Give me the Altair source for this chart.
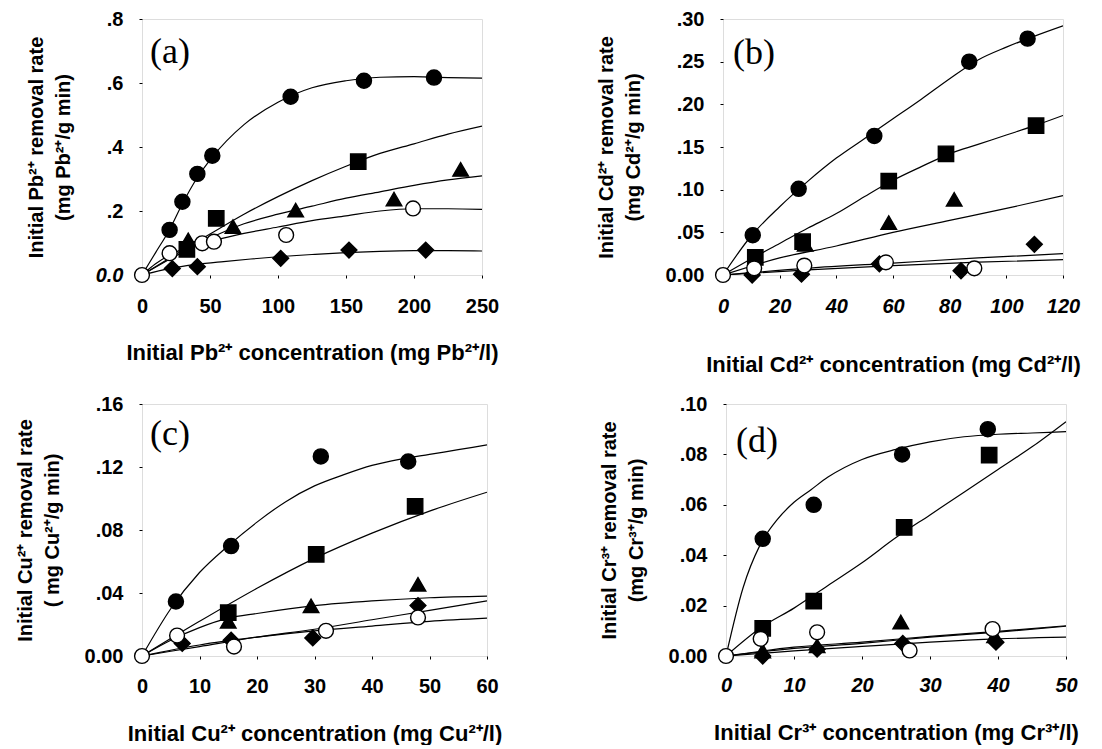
import altair as alt
import pandas as pd

# ---------------- data ----------------
SERIES = ["diamond", "triangle", "square", "circle", "open"]
SHAPES = ["diamond", "triangle-up", "square", "circle", "circle"]
FILLS = ["black", "black", "black", "black", "white"]
SIZES = [250, 220, 230, 270, 270]

# Panel (a) Pb
a_pts = {
    "circle":   ([20.3, 29.7, 40.7, 51.7, 109.3, 163.2, 214.7], [0.141, 0.229, 0.316, 0.373, 0.557, 0.607, 0.617]),
    "square":   ([33, 54.6, 159], [0.08, 0.177, 0.354]),
    "triangle": ([34, 66.9, 113, 185.3, 234.3], [0.11, 0.151, 0.203, 0.237, 0.33]),
    "open":     ([0, 20.3, 44.3, 52.9, 106, 199.3], [0, 0.068, 0.099, 0.104, 0.125, 0.208]),
    "diamond":  ([22.3, 40.7, 102, 152.2, 208.6], [0.02, 0.026, 0.052, 0.078, 0.078]),
}
a_fit = {
    "circle":   ([0, 10, 20, 30, 40, 52, 75, 100, 125, 150, 175, 200, 225, 250],
                 [0, 0.07, 0.14, 0.225, 0.3, 0.37, 0.47, 0.54, 0.585, 0.607, 0.618, 0.62, 0.617, 0.615]),
    "square":   ([0, 25, 50, 75, 100, 125, 150, 175, 200, 225, 250],
                 [0, 0.065, 0.128, 0.19, 0.245, 0.295, 0.34, 0.38, 0.41, 0.44, 0.465]),
    "triangle": ([0, 25, 50, 75, 100, 125, 150, 175, 200, 225, 250],
                 [0, 0.06, 0.115, 0.16, 0.19, 0.215, 0.24, 0.26, 0.28, 0.297, 0.31]),
    "open":     ([0, 10, 20, 35, 50, 75, 100, 125, 150, 175, 200, 225, 250],
                 [0, 0.035, 0.062, 0.088, 0.105, 0.13, 0.15, 0.17, 0.185, 0.2, 0.207, 0.207, 0.205]),
    "diamond":  ([0, 20, 40, 60, 80, 100, 125, 150, 175, 200, 225, 250],
                 [0, 0.02, 0.033, 0.042, 0.05, 0.057, 0.064, 0.07, 0.074, 0.076, 0.076, 0.075]),
}

# Panel (b) Cd
b_pts = {
    "circle":   ([10.5, 26.7, 53.4, 86.9, 107.5], [0.0467, 0.101, 0.163, 0.250, 0.277]),
    "square":   ([11.4, 28.1, 58.5, 78.7, 110.5], [0.0206, 0.039, 0.110, 0.142, 0.175]),
    "triangle": ([29, 58.5, 81.6], [0.036, 0.0615, 0.0887]),
    "open":     ([0, 11, 28.7, 57.5, 88.7], [0, 0.0078, 0.011, 0.0148, 0.0078]),
    "diamond":  ([10.3, 27.7, 55.2, 84, 109.9], [0.0, 0.001, 0.013, 0.005, 0.036]),
}
b_fit = {
    "circle":   ([0, 10, 20, 30, 40, 50, 60, 70, 80, 90, 100, 110, 120],
                 [0, 0.046, 0.08, 0.11, 0.137, 0.16, 0.183, 0.206, 0.23, 0.252, 0.267, 0.28, 0.292]),
    "square":   ([0, 10, 20, 30, 40, 50, 60, 70, 80, 90, 100, 110, 120],
                 [0, 0.019, 0.037, 0.055, 0.072, 0.092, 0.111, 0.127, 0.142, 0.153, 0.164, 0.175, 0.187]),
    "triangle": ([0, 20, 40, 60, 80, 100, 120], [0, 0.02, 0.034, 0.05, 0.064, 0.078, 0.093]),
    "open":     ([0, 30, 60, 90, 120], [0, 0.006, 0.011, 0.015, 0.018]),
    "diamond":  ([0, 30, 60, 90, 120], [0, 0.008, 0.014, 0.02, 0.025]),
}

# Panel (c) Cu
c_pts = {
    "circle":   ([5.9, 15.5, 31.1, 46.3], [0.0346, 0.0698, 0.1267, 0.1235]),
    "square":   ([15, 30.3, 47.5], [0.0275, 0.0645, 0.095]),
    "triangle": ([15, 29.4, 48], [0.022, 0.0318, 0.0455]),
    "open":     ([0, 6.1, 16, 32, 48], [0, 0.013, 0.006, 0.016, 0.0245]),
    "diamond":  ([7, 15.5, 29.7, 48], [0.008, 0.01, 0.0115, 0.032]),
}
c_fit = {
    "circle":   ([0, 5, 10, 15, 20, 25, 30, 35, 40, 45, 50, 55, 60],
                 [0, 0.03, 0.053, 0.07, 0.085, 0.098, 0.108, 0.115, 0.121, 0.125, 0.128, 0.131, 0.134]),
    "square":   ([0, 10, 20, 30, 40, 50, 60], [0, 0.022, 0.043, 0.062, 0.078, 0.092, 0.104]),
    "triangle": ([0, 5, 10, 15, 20, 30, 40, 50, 60], [0, 0.01, 0.018, 0.024, 0.027, 0.032, 0.035, 0.037, 0.038]),
    "open":     ([0, 10, 20, 30, 40, 50, 60], [0, 0.007, 0.012, 0.016, 0.019, 0.022, 0.024]),
    "diamond":  ([0, 10, 20, 30, 40, 50, 60], [0, 0.006, 0.012, 0.017, 0.023, 0.029, 0.035]),
}

# Panel (d) Cr
d_pts = {
    "circle":   ([5.4, 12.9, 25.9, 38.5], [0.0465, 0.060, 0.080, 0.090]),
    "square":   ([5.4, 12.9, 26.2, 38.7], [0.011, 0.0218, 0.051, 0.0797]),
    "triangle": ([5.4, 13.4, 25.7, 39.5], [0.002, 0.004, 0.0135, 0.008]),
    "open":     ([0, 5.1, 13.4, 27, 39.2], [0, 0.0068, 0.0094, 0.0022, 0.0107]),
    "diamond":  ([5.4, 13.4, 26, 39.7], [0.0, 0.0027, 0.005, 0.0055]),
}
d_fit = {
    "circle":   ([0, 2.5, 5, 7.5, 10, 12.5, 15, 20, 25, 30, 35, 40, 45, 50],
                 [0, 0.027, 0.044, 0.054, 0.061, 0.066, 0.071, 0.078, 0.082, 0.085, 0.087, 0.088, 0.0885, 0.089]),
    "square":   ([0, 5, 10, 15, 20, 25, 30, 35, 40, 45, 50],
                 [0, 0.011, 0.019, 0.028, 0.037, 0.047, 0.056, 0.065, 0.074, 0.083, 0.093]),
    "triangle": ([0, 10, 20, 30, 40, 50], [0, 0.003, 0.005, 0.0075, 0.0095, 0.0118]),
    "open":     ([0, 10, 20, 30, 40, 50], [0, 0.0035, 0.0055, 0.0078, 0.0098, 0.012]),
    "diamond":  ([0, 10, 20, 30, 40, 50], [0, 0.002, 0.0038, 0.0055, 0.0068, 0.0075]),
}

FONT = "Liberation Sans"
YFONT = "Liberation Sans Narrow, Liberation Sans"


def to_df(d):
    rows = []
    for s in SERIES:
        xs, ys = d[s]
        for x, y in zip(xs, ys):
            rows.append({"series": s, "x": x, "y": y})
    return pd.DataFrame(rows)


def panel(pts, fit, xdom, xticks, ydom, yticks, ydec, xtitle, ytitle, label,
          w, h, x_italic, y0_italic, xlabpad, xtitlepad, lab_x, lab_y):
    zero_lab = "0." + "0" * ydec
    yexpr = ("datum.value == 0 ? '%s' : replace(format(datum.value, '.%df'), '0.', '.')"
             % (zero_lab, ydec))
    xs = alt.Scale(domain=xdom, nice=False, zero=False)
    ys = alt.Scale(domain=ydom, nice=False, zero=False)
    xaxis = alt.Axis(values=xticks, title=xtitle, grid=False, domain=False,
                     tickSize=3, tickColor="black", labelPadding=xlabpad,
                     titlePadding=xtitlepad, labelFont=FONT, labelFontSize=20,
                     labelFontWeight="bold", labelColor="black",
                     labelFontStyle="italic" if x_italic else "normal",
                     titleFont=FONT, titleFontSize=22, titleFontWeight="bold",
                     titleColor="black", labelFlush=False)
    ystyle = ({"condition": {"test": "datum.value == 0", "value": "italic"}, "value": "normal"}
              if y0_italic else "normal")
    yaxis = alt.Axis(values=yticks, title=ytitle, grid=False, domain=False,
                     tickSize=3, tickColor="black", labelPadding=16,
                     titlePadding=22, labelFont=FONT, labelFontSize=20,
                     labelFontWeight="bold", labelColor="black",
                     labelFontStyle=ystyle,
                     labelExpr=yexpr, labelFlush=False,
                     titleFont=YFONT, titleFontSize=20, titleFontWeight="bold",
                     titleColor="black", titleLineHeight=27)
    X = alt.X("x:Q", scale=xs, axis=xaxis)
    Y = alt.Y("y:Q", scale=ys, axis=yaxis)

    curves = alt.Chart(to_df(fit)).mark_line(
        color="black", strokeWidth=1.2, interpolate="monotone", clip=True
    ).encode(x=X, y=Y, detail="series:N")

    points = alt.Chart(to_df(pts)).mark_point(
        filled=True, stroke="black", strokeWidth=1.4, opacity=1
    ).encode(
        x=alt.X("x:Q", scale=xs),
        y=alt.Y("y:Q", scale=ys),
        shape=alt.Shape("series:N", scale=alt.Scale(domain=SERIES, range=SHAPES), legend=None),
        fill=alt.Fill("series:N", scale=alt.Scale(domain=SERIES, range=FILLS), legend=None),
        size=alt.Size("series:N", scale=alt.Scale(domain=SERIES, range=SIZES), legend=None),
    )

    text = alt.Chart(pd.DataFrame({"t": [label]})).mark_text(
        font="Liberation Serif", fontSize=36, align="left", baseline="middle", color="black"
    ).encode(text="t:N", x=alt.value(lab_x), y=alt.value(lab_y))

    return alt.layer(curves, points, text).properties(width=w, height=h)


pa = panel(a_pts, a_fit, [0, 250], [0, 50, 100, 150, 200, 250], [0, 0.8], [0, 0.2, 0.4, 0.6, 0.8], 1,
           "Initial Pb²⁺ concentration (mg Pb²⁺/l)",
           ["Initial Pb²⁺ removal rate", "(mg Pb²⁺/g min)"], "(a)",
           340, 256, False, True, 18, 26, 8, 33)
pb = panel(b_pts, b_fit, [0, 120], [0, 20, 40, 60, 80, 100, 120], [0, 0.30],
           [0, 0.05, 0.10, 0.15, 0.20, 0.25, 0.30], 2,
           "Initial Cd²⁺ concentration (mg Cd²⁺/l)",
           ["Initial Cd²⁺ removal rate", "(mg Cd²⁺/g min)"], "(b)",
           340, 256, True, False, 18, 38, 10, 34)
pc = panel(c_pts, c_fit, [0, 60], [0, 10, 20, 30, 40, 50, 60], [0, 0.16],
           [0, 0.04, 0.08, 0.12, 0.16], 2,
           "Initial Cu²⁺ concentration (mg Cu²⁺/l)",
           ["Initial Cu²⁺ removal rate", "( mg Cu²⁺/g min)"], "(c)",
           345, 252, False, False, 17, 27, 8, 30)
pd_ = panel(d_pts, d_fit, [0, 50], [0, 10, 20, 30, 40, 50], [0, 0.10],
            [0, 0.02, 0.04, 0.06, 0.08, 0.10], 2,
            "Initial Cr³⁺ concentration (mg Cr³⁺/l)",
            ["Initial Cr³⁺ removal rate", "(mg Cr³⁺/g min)"], "(d)",
            340, 252, True, False, 16, 27, 10, 37)

row1 = alt.hconcat(pa, pb, spacing=95)
row2 = alt.hconcat(pc, pd_, spacing=95)
chart = alt.vconcat(row1, row2, spacing=17).properties(
    padding={"left": 6, "top": 0, "right": 5, "bottom": 0}
).configure_view(
    stroke="black", strokeWidth=1.5
).configure_axis(
    titleLineHeight=27
).configure(background="white")

chart.save("out.html", embed_options={"renderer": "svg", "actions": False})
